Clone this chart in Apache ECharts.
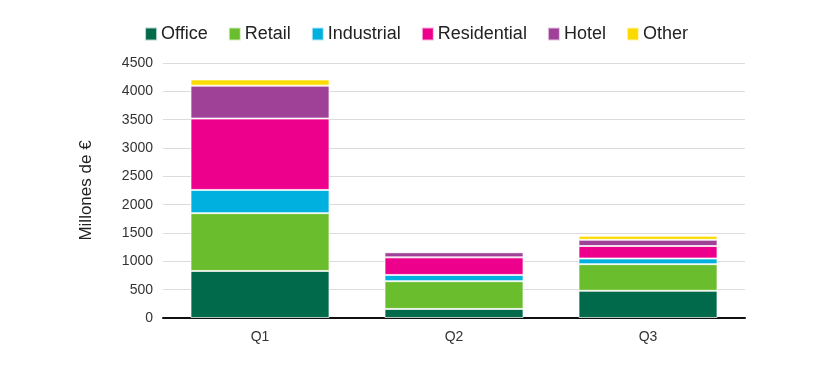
<!DOCTYPE html>
<html>
<head>
<meta charset="utf-8">
<script src="https://cdn.jsdelivr.net/npm/echarts@6/dist/echarts.min.js"></script>
<style>html,body{margin:0;padding:0;background:#fff;}#c{width:832px;height:379px;}</style>
</head>
<body>
<div id="c"></div>
<script>
const categories = ['Q1', 'Q2', 'Q3'];
const office = [830, 160, 480];
const retail = [1020, 490, 470];
const industrial = [410, 110, 100];
const residential = [1260, 310, 220];
const hotel = [580, 90, 110];
const other = [110, 10, 70];
const seriesNames = ['Office', 'Retail', 'Industrial', 'Residential', 'Hotel', 'Other'];
const seriesColors = ['#006a4b', '#6abd2c', '#00b1e0', '#ec008c', '#9e4197', '#fcda00'];
const seriesData = [office, retail, industrial, residential, hotel, other];

const chart = echarts.init(document.getElementById('c'), null, {renderer: 'canvas'});
chart.setOption({
  animation: false,
  textStyle: {fontFamily: 'Liberation Sans, Arial, sans-serif'},
  legend: {
    top: 20,
    left: 'center',
    itemWidth: 12,
    itemHeight: 13,
    itemGap: 20,
    icon: 'rect',
    textStyle: {fontSize: 18, color: '#222', padding: [0, 0, 0, -1]},
    data: seriesNames
  },
  grid: {left: 163, right: 87, top: 63, bottom: 61},
  xAxis: {
    type: 'category',
    data: categories,
    axisLine: {lineStyle: {color: '#111', width: 2}},
    axisTick: {show: false},
    axisLabel: {fontSize: 14, color: '#333', margin: 12}
  },
  yAxis: {
    type: 'value',
    min: 0,
    max: 4500,
    interval: 500,
    name: 'Millones de €',
    nameLocation: 'middle',
    nameGap: 68,
    nameTextStyle: {fontSize: 17, color: '#222'},
    axisLine: {show: false},
    axisTick: {show: false},
    axisLabel: {fontSize: 14, color: '#333', margin: 10, formatter: v => String(v)},
    splitLine: {lineStyle: {color: '#dcdcdc', width: 1}}
  },
  series: seriesNames.map((n, i) => ({
    name: n,
    type: 'bar',
    stack: 'total',
    barWidth: 139,
    data: seriesData[i],
    itemStyle: {color: seriesColors[i], borderColor: 'rgba(255,255,255,0.7)', borderWidth: 1}
  }))
});
</script>
</body>
</html>
